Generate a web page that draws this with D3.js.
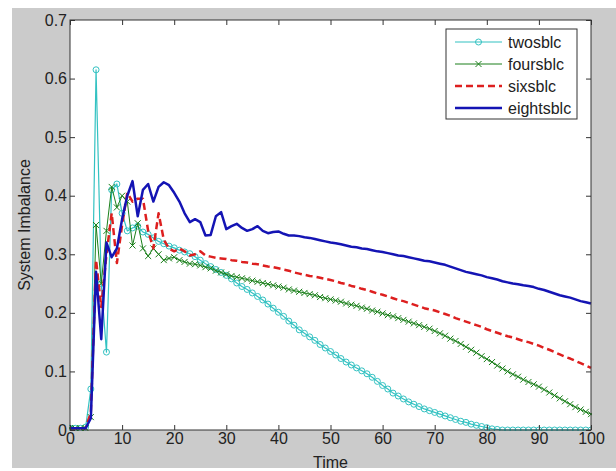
<!DOCTYPE html>
<html>
<head>
<meta charset="utf-8">
<script src="https://cdn.jsdelivr.net/npm/d3@7"></script>
<style>
  body { margin: 0; background: #fff; }
  text { font-family: "Liberation Sans Narrow", "Liberation Sans", Arial, sans-serif; }
</style>
</head>
<body>
<div id="wrapper"></div>
<script>
const time = d3.range(0, 101)

const twosblc = [
  0.003, 0.003, 0.003, 0.005, 0.070, 0.615, 0.250, 0.133, 0.410, 0.420,
  0.370, 0.340, 0.345, 0.348, 0.338, 0.334, 0.328, 0.322, 0.318, 0.314,
  0.311, 0.307, 0.304, 0.301, 0.296, 0.290, 0.284, 0.279, 0.274, 0.269,
  0.264, 0.258, 0.251, 0.245, 0.240, 0.234, 0.228, 0.222, 0.215, 0.208,
  0.201, 0.194, 0.186, 0.179, 0.171, 0.165, 0.159, 0.153, 0.146, 0.140,
  0.134, 0.128, 0.122, 0.116, 0.111, 0.106, 0.101, 0.096, 0.090, 0.083,
  0.076, 0.070, 0.063, 0.058, 0.053, 0.048, 0.044, 0.040, 0.036, 0.033,
  0.030, 0.027, 0.024, 0.021, 0.018, 0.015, 0.013, 0.010, 0.008, 0.006,
  0.004, 0.002, 0.001, 0.000, 0.000, 0.000, 0.000, 0.000, 0.000, 0.000,
  0.000, 0.000, 0.000, 0.000, 0.000, 0.000, 0.000, 0.000, 0.000, 0.000,
  0.000
]

const foursblc = [
  0.003, 0.003, 0.003, 0.003, 0.022, 0.350, 0.250, 0.340, 0.415, 0.380,
  0.400, 0.390, 0.315, 0.353, 0.310, 0.297, 0.310, 0.300, 0.290, 0.293,
  0.295, 0.290, 0.287, 0.284, 0.283, 0.281, 0.278, 0.276, 0.272, 0.269,
  0.266, 0.263, 0.261, 0.259, 0.257, 0.255, 0.253, 0.251, 0.249, 0.247,
  0.245, 0.243, 0.240, 0.238, 0.236, 0.234, 0.232, 0.230, 0.227, 0.225,
  0.223, 0.221, 0.219, 0.216, 0.214, 0.212, 0.209, 0.207, 0.204, 0.202,
  0.199, 0.196, 0.194, 0.191, 0.188, 0.185, 0.182, 0.179, 0.176, 0.173,
  0.169, 0.165, 0.161, 0.156, 0.152, 0.147, 0.142, 0.137, 0.132, 0.126,
  0.121, 0.116, 0.110, 0.105, 0.100, 0.095, 0.091, 0.086, 0.082, 0.078,
  0.074, 0.069, 0.064, 0.059, 0.054, 0.049, 0.044, 0.039, 0.035, 0.031,
  0.027
]

const sixsblc = [
  0.003, 0.003, 0.003, 0.003, 0.030, 0.290, 0.210, 0.300, 0.370, 0.285,
  0.350, 0.405, 0.390, 0.395, 0.395, 0.340, 0.310, 0.370, 0.325, 0.310,
  0.305, 0.310, 0.305, 0.298, 0.300, 0.305, 0.298, 0.296, 0.294, 0.293,
  0.292, 0.290, 0.289, 0.287, 0.286, 0.284, 0.283, 0.281, 0.279, 0.278,
  0.276, 0.274, 0.272, 0.269, 0.267, 0.265, 0.263, 0.262, 0.260, 0.258,
  0.256, 0.254, 0.251, 0.249, 0.246, 0.244, 0.241, 0.239, 0.236, 0.233,
  0.231, 0.228, 0.225, 0.222, 0.220, 0.217, 0.214, 0.211, 0.208, 0.206,
  0.204, 0.201, 0.198, 0.195, 0.191, 0.188, 0.185, 0.182, 0.179, 0.176,
  0.172, 0.169, 0.166, 0.163, 0.160, 0.158, 0.155, 0.152, 0.150, 0.147,
  0.144, 0.140, 0.137, 0.133, 0.129, 0.125, 0.122, 0.118, 0.114, 0.110,
  0.106
]

const eightsblc = [
  0.003, 0.003, 0.003, 0.003, 0.020, 0.270, 0.155, 0.320, 0.295, 0.310,
  0.360, 0.400, 0.425, 0.365, 0.410, 0.420, 0.390, 0.415, 0.423, 0.418,
  0.405, 0.390, 0.370, 0.355, 0.360, 0.355, 0.332, 0.333, 0.365, 0.372,
  0.343, 0.348, 0.352, 0.345, 0.340, 0.343, 0.348, 0.340, 0.336, 0.338,
  0.339, 0.335, 0.332, 0.332, 0.331, 0.329, 0.328, 0.326, 0.324, 0.322,
  0.320, 0.319, 0.317, 0.315, 0.313, 0.312, 0.310, 0.309, 0.307, 0.305,
  0.304, 0.302, 0.300, 0.298, 0.297, 0.295, 0.293, 0.291, 0.289, 0.288,
  0.286, 0.284, 0.282, 0.279, 0.276, 0.273, 0.270, 0.268, 0.266, 0.264,
  0.261, 0.259, 0.257, 0.254, 0.252, 0.250, 0.249, 0.247, 0.246, 0.244,
  0.241, 0.239, 0.236, 0.233, 0.230, 0.228, 0.226, 0.223, 0.220, 0.218,
  0.216
]

const seriesNames = ["twosblc", "foursblc", "sixsblc", "eightsblc"]
const xTicks = [0, 10, 20, 30, 40, 50, 60, 70, 80, 90, 100]
const yTicks = [0, 0.1, 0.2, 0.3, 0.4, 0.5, 0.6, 0.7]
const xLabel = "Time"
const yLabel = "System Imbalance"

const series = [
  { name: seriesNames[0], values: twosblc, color: "#33c2c2", width: 1.2, dash: null, marker: "circle" },
  { name: seriesNames[1], values: foursblc, color: "#1a7f1a", width: 1, dash: null, marker: "x" },
  { name: seriesNames[2], values: sixsblc, color: "#dd1f1f", width: 2.5, dash: "7,4", marker: null },
  { name: seriesNames[3], values: eightsblc, color: "#1414b4", width: 2.5, dash: null, marker: null }
]

const width = 616
const height = 471
const margin = { top: 20, right: 25, bottom: 41, left: 70 }
const boundedWidth = width - margin.left - margin.right
const boundedHeight = height - margin.top - margin.bottom
const fontSize = 16

const svg = d3.select("#wrapper")
  .append("svg")
    .attr("width", width)
    .attr("height", height)

// figure background
svg.append("rect")
    .attr("x", 12)
    .attr("y", 8)
    .attr("width", width - 12)
    .attr("height", 460)
    .attr("fill", "#cbcbcb")

const bounds = svg.append("g")
    .attr("transform", `translate(${margin.left},${margin.top})`)

bounds.append("rect")
    .attr("width", boundedWidth)
    .attr("height", boundedHeight)
    .attr("fill", "#fff")

const xScale = d3.scaleLinear()
    .domain([0, 100])
    .range([0, boundedWidth])

const yScale = d3.scaleLinear()
    .domain([0, 0.7])
    .range([boundedHeight, 0])

bounds.append("clipPath")
    .attr("id", "plot-clip")
  .append("rect")
    .attr("x", -1)
    .attr("y", -1)
    .attr("width", boundedWidth + 2)
    .attr("height", boundedHeight + 2)

const plot = bounds.append("g")
    .attr("clip-path", "url(#plot-clip)")

const lineGenerator = d3.line()
    .x((d, i) => xScale(time[i]))
    .y(d => yScale(d))

// draw in order so blue ends on top
series.forEach(s => {
  plot.append("path")
      .attr("d", lineGenerator(s.values))
      .attr("fill", "none")
      .attr("stroke", s.color)
      .attr("stroke-width", s.width)
      .attr("stroke-dasharray", s.dash)
      .attr("stroke-linejoin", "round")

  if (s.marker === "circle") {
    plot.append("g").selectAll("circle")
      .data(s.values)
      .join("circle")
        .attr("cx", (d, i) => xScale(time[i]))
        .attr("cy", d => yScale(d))
        .attr("r", 3)
        .attr("fill", "none")
        .attr("stroke", s.color)
        .attr("stroke-width", 1)
  }
  if (s.marker === "x") {
    plot.append("g").selectAll("path")
      .data(s.values)
      .join("path")
        .attr("d", (d, i) => {
          const cx = xScale(time[i]), cy = yScale(d), r = 3
          return `M${cx - r},${cy - r}L${cx + r},${cy + r}M${cx - r},${cy + r}L${cx + r},${cy - r}`
        })
        .attr("stroke", s.color)
        .attr("stroke-width", 1)
  }
})

// axes, MATLAB style with inward ticks on all four sides
const yFormat = d => d === 0 ? "0" : d.toFixed(1)

const xAxis = bounds.append("g")
    .attr("transform", `translate(0,${boundedHeight})`)
    .call(d3.axisBottom(xScale).tickValues(xTicks).tickSizeInner(-5).tickSizeOuter(0).tickPadding(3))
const xTop = bounds.append("g")
    .call(d3.axisTop(xScale).tickValues(xTicks).tickSizeInner(-5).tickSizeOuter(0).tickFormat(""))
const yAxis = bounds.append("g")
    .call(d3.axisLeft(yScale).tickValues(yTicks).tickFormat(yFormat).tickSizeInner(-5).tickSizeOuter(0).tickPadding(3))
const yRight = bounds.append("g")
    .attr("transform", `translate(${boundedWidth},0)`)
    .call(d3.axisRight(yScale).tickValues(yTicks).tickSizeInner(-5).tickSizeOuter(0).tickFormat(""))

;[xAxis, xTop, yAxis, yRight].forEach(a => {
  a.select(".domain").remove()
  a.selectAll(".tick line").attr("stroke", "#333")
  a.selectAll("text")
      .attr("font-family", "Liberation Sans Narrow, Liberation Sans, Arial, sans-serif")
      .attr("font-size", fontSize)
      .attr("fill", "#222")
})

bounds.append("rect")
    .attr("width", boundedWidth)
    .attr("height", boundedHeight)
    .attr("fill", "none")
    .attr("stroke", "#333")
    .attr("stroke-width", 1)

svg.append("text")
    .attr("x", margin.left + boundedWidth / 2)
    .attr("y", 468)
    .attr("text-anchor", "middle")
    .attr("font-size", fontSize)
    .attr("fill", "#222")
    .text(xLabel)

svg.append("text")
    .attr("transform", `translate(30,${margin.top + boundedHeight / 2}) rotate(-90)`)
    .attr("text-anchor", "middle")
    .attr("font-size", fontSize)
    .attr("fill", "#222")
    .text(yLabel)

// legend
const legend = svg.append("g")
    .attr("transform", "translate(446,29)")

legend.append("rect")
    .attr("width", 131)
    .attr("height", 90)
    .attr("fill", "#fff")
    .attr("stroke", "#333")

series.forEach((s, i) => {
  const row = legend.append("g")
      .attr("transform", `translate(0,${13 + i * 22})`)
  row.append("line")
      .attr("x1", 9)
      .attr("x2", 56)
      .attr("stroke", s.color)
      .attr("stroke-width", s.width)
      .attr("stroke-dasharray", s.dash)
  if (s.marker === "circle") {
    row.append("circle")
        .attr("cx", 32.5)
        .attr("r", 3)
        .attr("fill", "none")
        .attr("stroke", s.color)
  }
  if (s.marker === "x") {
    row.append("path")
        .attr("d", "M29.5,-3L35.5,3M29.5,3L35.5,-3")
        .attr("stroke", s.color)
  }
  row.append("text")
      .attr("x", 62)
      .attr("y", 5.5)
      .attr("font-size", fontSize)
      .attr("fill", "#222")
      .text(s.name)
})
</script>
</body>
</html>
